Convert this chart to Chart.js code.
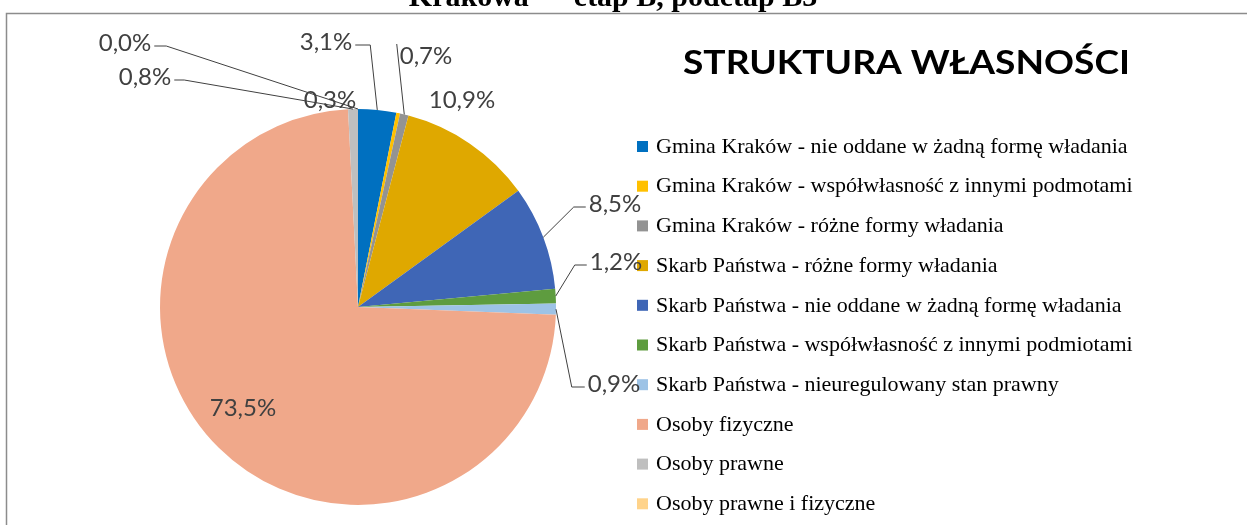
<!DOCTYPE html>
<html>
<head>
<meta charset="utf-8">
<script src="https://cdn.jsdelivr.net/npm/chart.js@4/dist/chart.umd.min.js"></script>
<style>
    html, body {margin: 0; padding: 0; background: #fff;}
    #wrap {position: relative; width: 1247px; height: 525px;}
</style>
</head>
<body>
<div id="wrap"><canvas id="chart" width="1247" height="525"></canvas></div>
<script>
// Ownership structure, shares in percent
const categories = [
    'Gmina Kraków - nie oddane w żadną formę władania',
    'Gmina Kraków - współwłasność z innymi podmotami',
    'Gmina Kraków - różne formy władania',
    'Skarb Państwa - różne formy władania',
    'Skarb Państwa - nie oddane w żadną formę władania',
    'Skarb Państwa - współwłasność z innymi podmiotami',
    'Skarb Państwa - nieuregulowany stan prawny',
    'Osoby fizyczne',
    'Osoby prawne',
    'Osoby prawne i fizyczne',
];
const shares = [3.1, 0.3, 0.7, 10.9, 8.5, 1.2, 0.9, 73.5, 0.8, 0.0];
const colors = [
    '#0070C0', '#FFC000', '#939393', '#DFA800', '#3F66B6',
    '#5E9C3F', '#9DC3E6', '#F0A88A', '#BFBFBF', '#FFD38A',
];
const chartTitle = 'STRUKTURA WŁASNOŚCI';
const pageHeading = 'Krakowa — etap B, podetap B3';

// Where each percent label sits relative to the pie centre (Excel moved them by hand)
// side: which end of the text the leader line leaves from
const labelPlaces = [
    {dx: -32, dy: -265, side: 'right', elbow: 15},
    {dx: -28, dy: -207, side: 'none'},
    {dx: 68, dy: -251, side: 'top'},
    {dx: 104, dy: -207, side: 'none'},
    {dx: 257, dy: -103, side: 'left', elbow: 12},
    {dx: 258, dy: -45, side: 'left', elbow: 12},
    {dx: 256, dy: 77, side: 'left', elbow: 13},
    {dx: -115, dy: 101, side: 'none'},
    {dx: -213, dy: -230, side: 'right', elbow: 10},
    {dx: -233, dy: -264, side: 'right', elbow: 12},
];

function fmtPct(v) {
    return v.toFixed(1).replace('.', ',') + '%';
}

const pluginDecor = {
    id: 'decor',
    beforeDraw: function(chart) {
        'use strict';
        const ctx = chart.ctx;
        ctx.save();
        // cut-off page heading above the chart frame
        ctx.fillStyle = '#000';
        ctx.font = 'bold 30px "Liberation Serif"';
        ctx.textAlign = 'center';
        ctx.textBaseline = 'alphabetic';
        ctx.fillText(pageHeading, 613, 6);
        // chart frame
        ctx.strokeStyle = '#8c8c8c';
        ctx.lineWidth = 1.5;
        ctx.beginPath();
        ctx.moveTo(6.5, 525);
        ctx.lineTo(6.5, 13.5);
        ctx.lineTo(1247, 13.5);
        ctx.stroke();
        ctx.restore();
    },
    afterDraw: function(chart) {
        'use strict';
        const ctx = chart.ctx;
        const meta = chart.getDatasetMeta(0);
        ctx.save();

        // title
        ctx.fillStyle = '#000';
        ctx.font = 'bold 33px Lato';
        ctx.textAlign = 'left';
        ctx.textBaseline = 'middle';
        const tw = ctx.measureText(chartTitle).width;
        ctx.save();
        ctx.translate(683, 63);
        ctx.scale(447 / tw, 1);
        ctx.fillText(chartTitle, 0, 0);
        ctx.restore();

        // legend
        ctx.font = '22px "Liberation Serif"';
        ctx.textBaseline = 'middle';
        for (let i = 0; i < categories.length; ++i) {
            const y = 146 + i * 39.7;
            ctx.fillStyle = colors[i];
            ctx.fillRect(637, y - 5, 11, 11);
            ctx.fillStyle = '#000';
            ctx.fillText(categories[i], 656, y + 1);
        }

        // percent labels with leader lines
        ctx.font = '24px Lato';
        ctx.textAlign = 'center';
        ctx.strokeStyle = '#404040';
        ctx.lineWidth = 1;
        meta.data.forEach(function(arc, i) {
            const p = arc.getProps(['x', 'y', 'startAngle', 'endAngle', 'outerRadius'], true);
            const place = labelPlaces[i];
            const tx = p.x + place.dx;
            const ty = p.y + place.dy;
            const text = fmtPct(shares[i]);
            const w = ctx.measureText(text).width;
            if (place.side !== 'none') {
                const mid = (p.startAngle + p.endAngle) / 2;
                const ex = p.x + Math.cos(mid) * p.outerRadius;
                const ey = p.y + Math.sin(mid) * p.outerRadius;
                ctx.beginPath();
                if (place.side === 'top') {
                    ctx.moveTo(tx - w / 2 - 3, ty - 12);
                } else {
                    const dir = place.side === 'right' ? 1 : -1;
                    const sx = tx + dir * (w / 2 + 3);
                    ctx.moveTo(sx, ty + 3);
                    ctx.lineTo(sx + dir * place.elbow, ty + 3);
                }
                ctx.lineTo(ex, ey);
                ctx.stroke();
            }
            ctx.fillStyle = '#404040';
            ctx.fillText(text, tx, ty);
        });
        ctx.restore();
    },
};

new Chart(document.getElementById('chart'), {
    type: 'pie',
    data: {
        labels: categories,
        datasets: [{
            data: shares,
            backgroundColor: colors,
            borderWidth: 0,
            hoverOffset: 0,
            offset: 0,
        }],
    },
    options: {
        responsive: false,
        devicePixelRatio: 1,
        animation: false,
        layout: {
            padding: {left: 160, top: 109, right: 691, bottom: 20},
        },
        plugins: {
            legend: {display: false},
            tooltip: {enabled: false},
        },
    },
    plugins: [pluginDecor],
});
</script>
</body>
</html>
